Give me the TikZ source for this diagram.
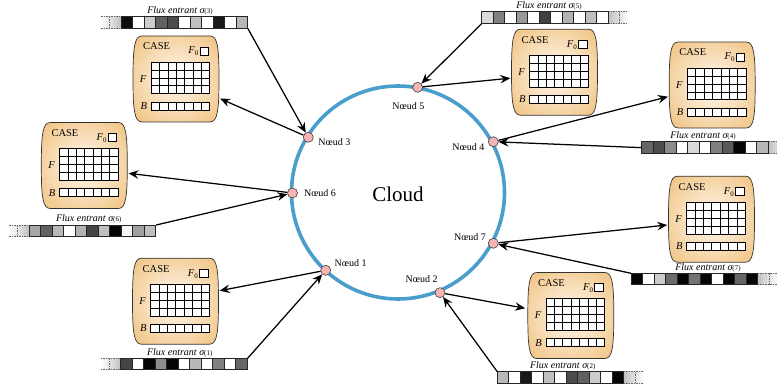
\documentclass[tikz,border=0pt]{standalone}
\usepackage{fontspec}
\setmainfont{Liberation Serif}
\usetikzlibrary{arrows.meta,calc}
\definecolor{ringblue}{RGB}{74,158,204}
\definecolor{nodepink}{RGB}{246,180,180}
\definecolor{boxin}{RGB}{253,240,222}
\definecolor{boxout}{RGB}{238,186,112}
\pgfdeclareradialshading{caseshade}{\pgfpoint{0bp}{0bp}}{color(0bp)=(boxin); color(6bp)=(boxin); color(40bp)=(boxout); color(75bp)=(boxout)}
\tikzset{
 ring/.style={draw=ringblue, line width=3.6pt},
 nd/.style={circle, draw=black!75, fill=nodepink, line width=0.6pt, minimum size=10pt, inner sep=0pt},
 ndlabel/.style={font=\fontsize{10}{12}\selectfont, inner sep=0pt},
 arr/.style={line width=1.25pt, -{Stealth[length=10pt,width=8.5pt,inset=3.5pt]}},
 boxframe/.style={draw=black!80, line width=0.7pt, shading=caseshade},
 cellst/.style={draw=black, line width=0.7pt, fill=white},
 stripcell/.style={draw=black!85, line width=0.7pt},
 fadedash/.style={draw=black!60, line width=0.7pt, dash pattern=on 1.5pt off 1pt},
 boxanchor/.style={rectangle, minimum width=88pt, minimum height=86pt, inner sep=0pt},
 stripanchor/.style={rectangle, minimum width=126.5pt, minimum height=11.5pt, inner sep=0pt, anchor=north west},
 fluxlabel/.style={font=\fontsize{10}{12}\selectfont\itshape, inner sep=0pt, anchor=base},
 boxtext/.style={font=\fontsize{10.5}{12}\selectfont, inner sep=0pt},
}
\newcommand\casebox[3]{%
 \node[boxanchor] (#1) at (#2,#3) {};
 \begin{scope}[shift={(#2,#3)}]
  \shadedraw[boxframe] (-34,-43) -- (34,-43) .. controls (41.5,-43) and (43,-32) .. (43,0) .. controls (43,32) and (41.5,43) .. (34,43) -- (-34,43) .. controls (-41.5,43) and (-43,32) .. (-43,0) .. controls (-43,-32) and (-41.5,-43) .. (-34,-43) -- cycle;
  \node[boxtext, anchor=west] (#1c) at (-33,-32.5) {CASE};
  \foreach \i in {0,...,6}{\foreach \j in {0,...,3}{\draw[cellst] ({-24.8+\i*8.37},{-16.9+\j*7.93}) rectangle ++(8.37,7.93);}}
  \foreach \i in {0,...,6}{\draw[cellst] ({-24.8+\i*8.37},23.1) rectangle ++(8.37,8);}
  \draw[cellst] (24,-32) rectangle (32.5,-24);
  \node[boxtext] (#1f) at (-32.8,0) {\itshape F};
  \node[boxtext] (#1b) at (-32.2,27.1) {\itshape B};
  \node[boxtext, anchor=east] (#1z) at (22.5,-27.5) {\itshape F\/\raisebox{-0.45ex}{\upshape\fontsize{7}{8}\selectfont 0}};
 \end{scope}}
\newcommand\fluxcells[4]{%
  \node[stripanchor] (#1) at (#2,#3) {};
  \foreach \k [count=\i from 0] in {#4}
    \filldraw[stripcell, fill=black!\k] ({#2+\i*11.5},#3) rectangle ++(11.5,11.5);
}
\newcommand\fadeL[2]{%
  \shade[left color=white, right color=black!25] ({#1-20},#2) rectangle (#1,{#2+11.5});
  \draw[fadedash] ({#1-20},#2) -- (#1,#2) ({#1-20},{#2+11.5}) -- (#1,{#2+11.5}) ({#1-11.5},#2) -- ({#1-11.5},{#2+11.5});
}
\newcommand\fadeR[2]{%
  \shade[left color=black!25, right color=white] (#1,#2) rectangle ({#1+20},{#2+11.5});
  \draw[fadedash] (#1,#2) -- ({#1+20},#2) (#1,{#2+11.5}) -- ({#1+20},{#2+11.5}) ({#1+11.5},#2) -- ({#1+11.5},{#2+11.5});
}
\newcommand\fluxtext[1]{Flux entrant σ{\upshape\fontsize{7}{8}\selectfont(#1)}}
\begin{document}
\begin{tikzpicture}[x=1pt,y=-1pt]
\useasboundingbox (0,0) rectangle (777,388);
% boxes
\casebox{b3}{176}{78.9}
\casebox{b6}{84.3}{165.5}
\casebox{b1}{175.5}{301.2}
\casebox{b5}{554.5}{72.2}
\casebox{b4}{712.2}{85}
\casebox{b7}{711.5}{219.2}
\casebox{b2}{570.8}{315.5}
% strips
\fadeL{121}{16.7}
\fluxcells{s3}{121}{16.7}{95,0,20,62,70,0,25,0,90,0,28}
\node[fluxlabel] (t3) at (180,13.5) {\fluxtext{3}};
\fadeL{29.3}{225}
\fluxcells{s6}{29.3}{225}{34,62,28,0,30,73,25,98,4,37,25}
\node[fluxlabel] (t6) at (88.7,221.8) {\fluxtext{6}};
\fadeL{120.7}{358.3}
\fluxcells{s1}{120.7}{358.3}{73,0,98,45,98,0,28,0,50,0,60}
\node[fluxlabel] (t1) at (179.7,355) {\fluxtext{1}};
\fadeR{608.2}{11.7}
\fluxcells{s5}{481.7}{11.7}{15,50,0,40,0,75,0,30,0,25,0}
\node[fluxlabel] (t5) at (549,8.5) {\fluxtext{5}};
\fadeR{768.2}{141.7}
\fluxcells{s4}{641.7}{141.7}{60,70,45,0,15,0,50,65,98,0,28}
\node[fluxlabel] (t4) at (703,138.5) {\fluxtext{4}};
\fadeR{757.5}{273.3}
\fluxcells{s7}{631}{273.3}{98,0,20,58,98,55,98,0,98,60,98}
\node[fluxlabel] (t7) at (708,270) {\fluxtext{7}};
\fadeR{623.8}{371.7}
\fluxcells{s2}{497.3}{371.7}{28,0,90,0,25,0,70,62,20,0,98}
\node[fluxlabel] (t2) at (562.7,368.5) {\fluxtext{2}};
% ring
\draw[ring] (398,192.5) circle[radius=106.5];
\node (cloud) at (398,194) {\fontsize{21}{25}\selectfont Cloud};
% nodes
\node[nd] (n5) at (417.7,87.3) {};
\node[nd] (n3) at (308.3,137.3) {};
\node[nd] (n4) at (493.3,141.7) {};
\node[nd] (n6) at (292.5,193) {};
\node[nd] (n7) at (493.3,243.3) {};
\node[nd] (n1) at (325.7,270.3) {};
\node[nd] (n2) at (440,292.7) {};
\node[ndlabel] (l5) at (408.3,106) {Nœud 5};
\node[ndlabel] (l3) at (334.3,142.3) {Nœud 3};
\node[ndlabel] (l4) at (468.3,147.3) {Nœud 4};
\node[ndlabel] (l6) at (320,193.3) {Nœud 6};
\node[ndlabel] (l7) at (470,236.7) {Nœud 7};
\node[ndlabel] (l1) at (350.7,263.3) {Nœud 1};
\node[ndlabel] (l2) at (421.7,279.3) {Nœud 2};
% strip -> node
\draw[arr] (s3.south east) -- (n3);
\draw[arr] (s6.north east) -- (n6);
\draw[arr] (s1.north east) -- (n1);
\draw[arr] (s5.south west) -- (n5);
\draw[arr] (s4.west) -- (n4);
\draw[arr] (s7.north west) -- (n7);
\draw[arr] (s2.north west) -- (n2);
% node -> box
\draw[arr] (n3) -- ($(b3.east)+(0,19.8)$);
\draw[arr] (n6) -- ($(b6.east)+(0,7.8)$);
\draw[arr] (n1) -- ($(b1.east)+(0,-10.5)$);
\draw[arr] (n5) -- ($(b5.west)+(0,6)$);
\draw[arr] (n4) -- ($(b4.west)+(0,11.7)$);
\draw[arr] (n7) -- ($(b7.west)+(0,5.8)$);
\draw[arr] (n2) -- ($(b2.west)+(-1.5,-7.2)$);
\end{tikzpicture}
\end{document}
